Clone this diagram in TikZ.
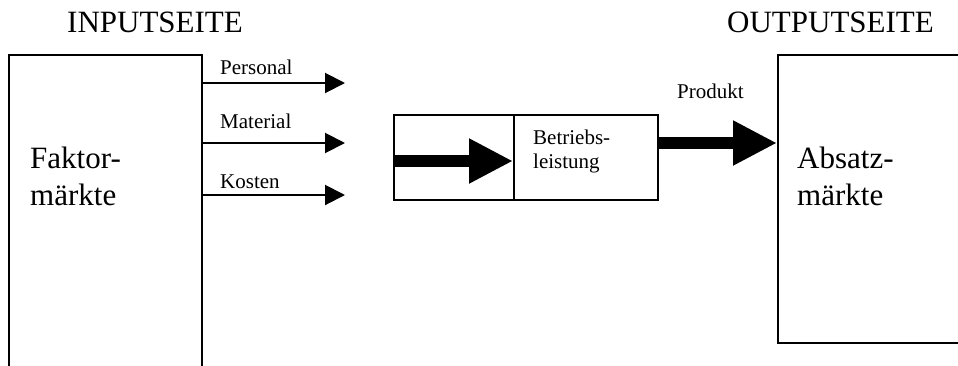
\documentclass[tikz,border=0pt]{standalone}
\usepackage{fontspec}
\setmainfont{Liberation Serif}
\usetikzlibrary{arrows.meta}
\begin{document}
\begin{tikzpicture}[x=1pt,y=1pt,
  box/.style={draw,line width=1.6pt,inner sep=0pt},
  big/.style={inner sep=0pt,font=\fontsize{31}{37}\selectfont,align=left},
  small/.style={inner sep=0pt,font=\fontsize{21}{24}\selectfont,align=left},
  thinarrow/.style={line width=2pt,-{Triangle[length=20pt 0,width=20pt 0]}},
  thickarrow/.style={line width=12pt,-{Triangle[length=44pt 0,width=42pt 0]}}]
\useasboundingbox (0,0) rectangle (958,-365);
\clip (0,0) rectangle (958,-365);
% titles
\node[big,anchor=base west] (tin) at (67,-32) {INPUTSEITE};
\node[big,anchor=base west] (tout) at (727,-32) {OUTPUTSEITE};
% market boxes
\node[box,anchor=north west,minimum width=193pt,minimum height=330pt] (faktor) at (8,-54) {};
\node[box,anchor=north west,minimum width=200pt,minimum height=288pt] (absatz) at (777,-54) {};
\node[big,anchor=base west] (ftext) at (30,-205) {Faktor-\\märkte};
\node[big,anchor=base west] (atext) at (797,-205) {Absatz-\\märkte};
% middle boxes
\node[box,anchor=north west,minimum width=120pt,minimum height=85pt] (m1) at (393,-114) {};
\node[box,anchor=north west,minimum width=144pt,minimum height=85pt] (m2) at (513,-114) {};
\node[small,anchor=base west] (btext) at (533,-168) {Betriebs-\\leistung};
% input arrows
\coordinate (p0) at (201,-83);  \coordinate (p1) at (345,-83);
\coordinate (q0) at (201,-143); \coordinate (q1) at (345,-143);
\coordinate (r0) at (201,-195); \coordinate (r1) at (345,-195);
\draw[thinarrow] (p0) -- (p1);
\draw[thinarrow] (q0) -- (q1);
\draw[thinarrow] (r0) -- (r1);
\node[small,anchor=base west] (lp) at (220,-74) {Personal};
\node[small,anchor=base west] (lm) at (220,-128) {Material};
\node[small,anchor=base west] (lk) at (220,-188) {Kosten};
% thick arrows
\coordinate (i0) at (393,-161); \coordinate (i1) at (513,-161);
\draw[thickarrow] (i0) -- (i1);
\coordinate (o0) at (657,-143); \coordinate (o1) at (777,-143);
\draw[thickarrow] (o0) -- (o1);
\node[small,anchor=base west] (lprod) at (677,-98) {Produkt};
\end{tikzpicture}
\end{document}
